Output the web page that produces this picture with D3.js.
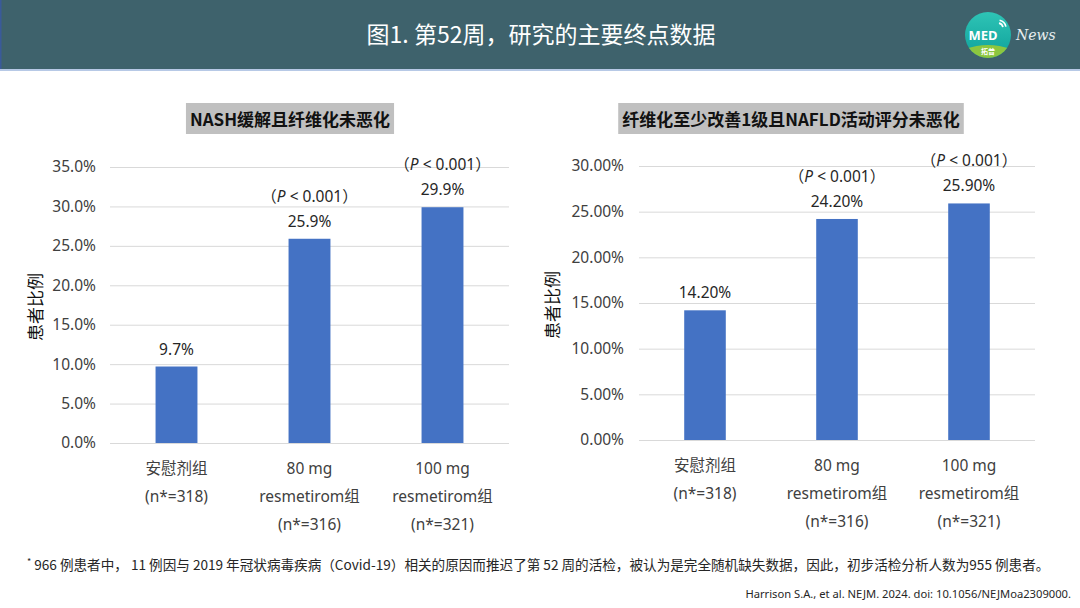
<!DOCTYPE html>
<html>
<head>
<meta charset="utf-8">
<script src="https://cdn.jsdelivr.net/npm/d3@7"></script>
<style>
  body { margin: 0; background: #ffffff; }
  svg { display: block; }
  text { font-family: "Noto Sans", "Noto Sans CJK SC", sans-serif; }
</style>
</head>
<body>
<script>

// data
var groups = ["安慰剂组", "80 mg", "100 mg"];
var groupLines = [
    ["安慰剂组", "(n*=318)"],
    ["80 mg", "resmetirom组", "(n*=316)"],
    ["100 mg", "resmetirom组", "(n*=321)"]
];
var nashValues = [9.7, 25.9, 29.9];
var fibrosisValues = [14.2, 24.2, 25.9];
var pLabels = [null, "P < 0.001", "P < 0.001"];
var nashTicks = [0, 5, 10, 15, 20, 25, 30, 35];
var fibrosisTicks = [0, 5, 10, 15, 20, 25, 30];

var W = 1080, H = 608;

var svg = d3.select('body').append('svg')
    .attr('width', W)
    .attr('height', H);

// header band
svg.append('rect')
    .attr('x', 0).attr('y', 0)
    .attr('width', W).attr('height', 69)
    .attr('fill', '#3e626c');
svg.append('rect')
    .attr('x', 0).attr('y', 69)
    .attr('width', W).attr('height', 2)
    .attr('fill', '#b7c9e6');
svg.append('rect')
    .attr('x', 0).attr('y', 0)
    .attr('width', 1.5).attr('height', 69)
    .attr('fill', '#3a5a9a');

svg.append('text')
    .attr('x', 541).attr('y', 43)
    .attr('text-anchor', 'middle')
    .attr('fill', '#ffffff')
    .style('font-family', '"Noto Sans CJK SC", sans-serif')
    .style('font-size', '23px')
    .text('图1. 第52周，研究的主要终点数据');

// logo
var defs = svg.append('defs');
var grad = defs.append('linearGradient').attr('id', 'logoGrad')
    .attr('x1', 0).attr('y1', 0).attr('x2', 0).attr('y2', 1);
grad.append('stop').attr('offset', '0%').attr('stop-color', '#2ec4b6');
grad.append('stop').attr('offset', '100%').attr('stop-color', '#0fa19a');
defs.append('clipPath').attr('id', 'logoClip')
    .append('circle').attr('cx', 988).attr('cy', 35).attr('r', 23);

var logo = svg.append('g');
logo.append('circle')
    .attr('cx', 988).attr('cy', 35).attr('r', 23)
    .attr('fill', 'url(#logoGrad)');
logo.append('ellipse')
    .attr('cx', 988).attr('cy', 58).attr('rx', 30).attr('ry', 13)
    .attr('clip-path', 'url(#logoClip)')
    .attr('fill', '#8cc63f');
logo.append('text')
    .attr('x', 983).attr('y', 40)
    .attr('text-anchor', 'middle')
    .attr('fill', '#ffffff')
    .style('font-size', '13px')
    .style('font-weight', 'bold')
    .text('MED');
logo.append('text')
    .attr('x', 988).attr('y', 54)
    .attr('text-anchor', 'middle')
    .attr('fill', '#ffffff')
    .style('font-family', '"Noto Sans CJK SC", sans-serif')
    .style('font-size', '7px')
    .style('font-weight', 'bold')
    .text('拓普');
[5, 8].forEach(function(r){
    logo.append('path')
        .attr('d', d3.arc()({innerRadius: r - 0.8, outerRadius: r + 0.8, startAngle: 0.2, endAngle: 1.4}))
        .attr('transform', 'translate(998,28)')
        .attr('fill', '#ffffff');
});
svg.append('text')
    .attr('x', 1016).attr('y', 40)
    .attr('fill', '#e8eef0')
    .style('font-family', '"DejaVu Serif", serif')
    .style('font-style', 'italic')
    .style('font-size', '14px')
    .text('News');

// one chart panel
function drawPanel(opt) {
    var g = svg.append('g');

    var x = d3.scaleBand()
        .domain(groups)
        .range([opt.x0, opt.x1])
        .paddingInner(0.685)
        .paddingOuter(0.3425);

    var y = d3.scaleLinear()
        .domain([0, opt.max])
        .range([opt.y0, opt.y1]);

    // title box
    var tbox = g.append('rect')
        .attr('fill', '#c0c0c0');
    var title = g.append('text')
        .attr('x', opt.titleX).attr('y', 126)
        .attr('text-anchor', 'middle')
        .attr('fill', '#111111')
        .style('font-family', '"Noto Sans CJK SC", sans-serif')
        .style('font-size', '17px')
        .style('font-weight', 'bold')
        .text(opt.title);
    var bb = title.node().getBBox();
    tbox.attr('x', bb.x - 4).attr('y', 103)
        .attr('width', bb.width + 8).attr('height', 31);

    // grid + ticks
    var axis = d3.axisLeft(y)
        .tickValues(opt.ticks)
        .tickSize(-(opt.x1 - opt.x0))
        .tickPadding(opt.pad)
        .tickFormat(function(d){ return d.toFixed(opt.dec) + '%'; });
    var ag = g.append('g')
        .attr('transform', 'translate(' + opt.x0 + ',0)')
        .call(axis);
    ag.select('.domain').remove();
    ag.selectAll('.tick line').attr('stroke', '#d9d9d9').attr('stroke-width', 1);
    ag.selectAll('.tick text')
        .attr('fill', '#404040')
        .style('font-size', '15.5px');

    // y title
    g.append('text')
        .attr('transform', 'translate(' + opt.yTitleX + ',' + ((opt.y0 + opt.y1) / 2 + 2) + ') rotate(-90)')
        .attr('text-anchor', 'middle')
        .attr('dy', '0.35em')
        .attr('fill', '#111111')
        .style('font-family', '"Noto Sans CJK SC", sans-serif')
        .style('font-size', '17px')
        .text('患者比例');

    // bars
    g.selectAll('.bar')
        .data(opt.values)
        .enter().append('rect')
        .attr('x', function(d, i){ return x(groups[i]); })
        .attr('y', function(d){ return y(d); })
        .attr('width', x.bandwidth())
        .attr('height', function(d){ return y(0) - y(d); })
        .attr('fill', '#4472c4');

    // value labels
    g.selectAll('.val')
        .data(opt.values)
        .enter().append('text')
        .attr('x', function(d, i){ return x(groups[i]) + x.bandwidth() / 2; })
        .attr('y', function(d){ return y(d) - 12; })
        .attr('text-anchor', 'middle')
        .attr('fill', '#262626')
        .style('font-size', '15.5px')
        .text(function(d){ return d.toFixed(opt.valDec) + '%'; });

    // p value labels
    pLabels.forEach(function(p, i){
        if (!p) return;
        var t = g.append('text')
            .attr('x', x(groups[i]) + x.bandwidth() / 2)
            .attr('y', y(opt.values[i]) - 37)
            .attr('text-anchor', 'middle')
            .attr('fill', '#262626')
            .style('font-size', '15.5px');
        t.append('tspan').style('font-family', '"Noto Sans CJK SC", sans-serif').text('（');
        t.append('tspan').style('font-style', 'italic').text('P');
        t.append('tspan').text(' < 0.001');
        t.append('tspan').style('font-family', '"Noto Sans CJK SC", sans-serif').text('）');
    });

    // category labels
    groupLines.forEach(function(lines, i){
        var t = g.append('text')
            .attr('x', x(groups[i]) + x.bandwidth() / 2)
            .attr('y', opt.y0 + 31)
            .attr('text-anchor', 'middle')
            .attr('fill', '#404040')
            .style('font-size', '15.5px');
        lines.forEach(function(l, j){
            t.append('tspan')
                .attr('x', x(groups[i]) + x.bandwidth() / 2)
                .attr('dy', j === 0 ? 0 : 28)
                .text(l);
        });
    });
}

drawPanel({
    title: 'NASH缓解且纤维化未恶化', titleX: 290,
    values: nashValues, ticks: nashTicks, max: 35, dec: 1, valDec: 1,
    x0: 110, x1: 509, y0: 443, y1: 167, pad: 14, yTitleX: 36
});

drawPanel({
    title: '纤维化至少改善1级且NAFLD活动评分未恶化', titleX: 791,
    values: fibrosisValues, ticks: fibrosisTicks, max: 30, dec: 2, valDec: 2,
    x0: 639, x1: 1035, y0: 440, y1: 166, pad: 15, yTitleX: 553
});

// footnotes
var fn = svg.append('text')
    .attr('x', 27).attr('y', 570)
    .attr('fill', '#262626')
    .style('font-family', '"Noto Sans CJK SC", sans-serif')
    .style('font-size', '13.6px');
fn.append('tspan').attr('dy', -5).style('font-size', '9px').text('*');
fn.append('tspan').attr('dy', 5).text(' 966 例患者中， 11 例因与 2019 年冠状病毒疾病（Covid-19）相关的原因而推迟了第 52 周的活检，被认为是完全随机缺失数据，因此，初步活检分析人数为955 例患者。');

svg.append('text')
    .attr('x', 1071).attr('y', 598)
    .attr('text-anchor', 'end')
    .attr('fill', '#262626')
    .style('font-size', '11.2px')
    .text('Harrison S.A., et al. NEJM. 2024. doi: 10.1056/NEJMoa2309000.');

</script>
</body>
</html>
